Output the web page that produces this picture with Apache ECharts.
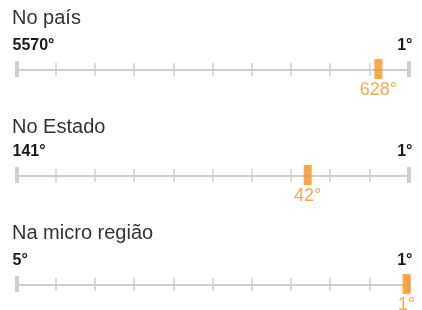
<!DOCTYPE html>
<html>
<head>
<meta charset="utf-8">
<script src="https://cdn.jsdelivr.net/npm/echarts@6/dist/echarts.min.js"></script>
<style>
html,body{margin:0;padding:0;background:#fff;}
#c{width:422px;height:310px;}
</style>
</head>
<body>
<div id="c"></div>
<script>
// ---- data ----
var sections = ['No país', 'No Estado', 'Na micro região'];
var worstRank = [5570, 141, 5];   // left end label
var bestRank = [1, 1, 1];         // right end label
var position = [628, 42, 1];      // highlighted rank

// ---- style ----
var axisY = [70, 176, 285];
var titleTop = [8, 117, 223];
var markerShift = [14, 14, -2];
var FONT = '"Liberation Sans", Arial, sans-serif';
var ORANGE = '#f7931e';
var GREY = '#cfcfcf';

var option = {
  animation: false,
  backgroundColor: '#fff',
  title: [], grid: [], xAxis: [], yAxis: [], series: []
};

sections.forEach(function (name, i) {
  var lo = bestRank[i], hi = worstRank[i];
  var ticks = [];
  for (var k = 0; k <= 10; k++) ticks.push(lo + k * (hi - lo) / 10);

  option.title.push({
    text: name, left: 12, top: titleTop[i], padding: 0,
    textStyle: {fontFamily: FONT, fontSize: 20, fontWeight: 'normal', color: '#333'}
  });
  option.grid.push({left: 16.5, right: 13.5, top: axisY[i] - 20, height: 20});
  option.yAxis.push({gridIndex: i, type: 'value', min: 0, max: 1, show: false});

  var base = {gridIndex: i, type: 'value', min: lo, max: hi, inverse: true,
              position: 'bottom', splitLine: {show: false}};
  // A: line + small upward ticks + end labels
  option.xAxis.push(Object.assign({}, base, {
    axisLine: {show: true, onZero: false, lineStyle: {color: GREY, width: 2}},
    axisTick: {show: true, inside: true, length: 7, customValues: ticks,
               lineStyle: {color: GREY, width: 1.5}},
    axisLabel: {show: true, inside: true, margin: 16, customValues: [lo, hi],
                formatter: function (v) { return v + '°'; },
                fontFamily: FONT, fontSize: 16, fontWeight: 'bold', color: '#1a1a1a',
                padding: [0, -4, 0, -4],
                alignMinLabel: 'right', alignMaxLabel: 'left'}
  }));
  // B: small downward ticks
  option.xAxis.push(Object.assign({}, base, {
    axisLine: {show: false, onZero: false},
    axisTick: {show: true, inside: false, length: 6, customValues: ticks,
               lineStyle: {color: GREY, width: 1.5}},
    axisLabel: {show: false}
  }));
  // C: end ticks upward
  option.xAxis.push(Object.assign({}, base, {
    axisLine: {show: false, onZero: false},
    axisTick: {show: true, inside: true, length: 9, customValues: [lo, hi],
               lineStyle: {color: GREY, width: 4}},
    axisLabel: {show: false}
  }));
  // D: end ticks downward
  option.xAxis.push(Object.assign({}, base, {
    axisLine: {show: false, onZero: false},
    axisTick: {show: true, inside: false, length: 7, customValues: [lo, hi],
               lineStyle: {color: GREY, width: 4}},
    axisLabel: {show: false}
  }));

  option.series.push({
    type: 'scatter', xAxisIndex: 4 * i, yAxisIndex: i, clip: false, z: 10,
    data: [[position[i], 0]],
    symbol: 'rect', symbolSize: [8, 20], symbolOffset: [markerShift[i], -1],
    itemStyle: {color: ORANGE},
    label: {show: true, position: 'bottom', distance: 2,
            formatter: function (p) { return p.value[0] + '°'; },
            fontFamily: FONT, fontSize: 18, color: ORANGE}
  });
});

var chart = echarts.init(document.getElementById('c'), null, {renderer: 'canvas'});
chart.setOption(option);
</script>
</body>
</html>
